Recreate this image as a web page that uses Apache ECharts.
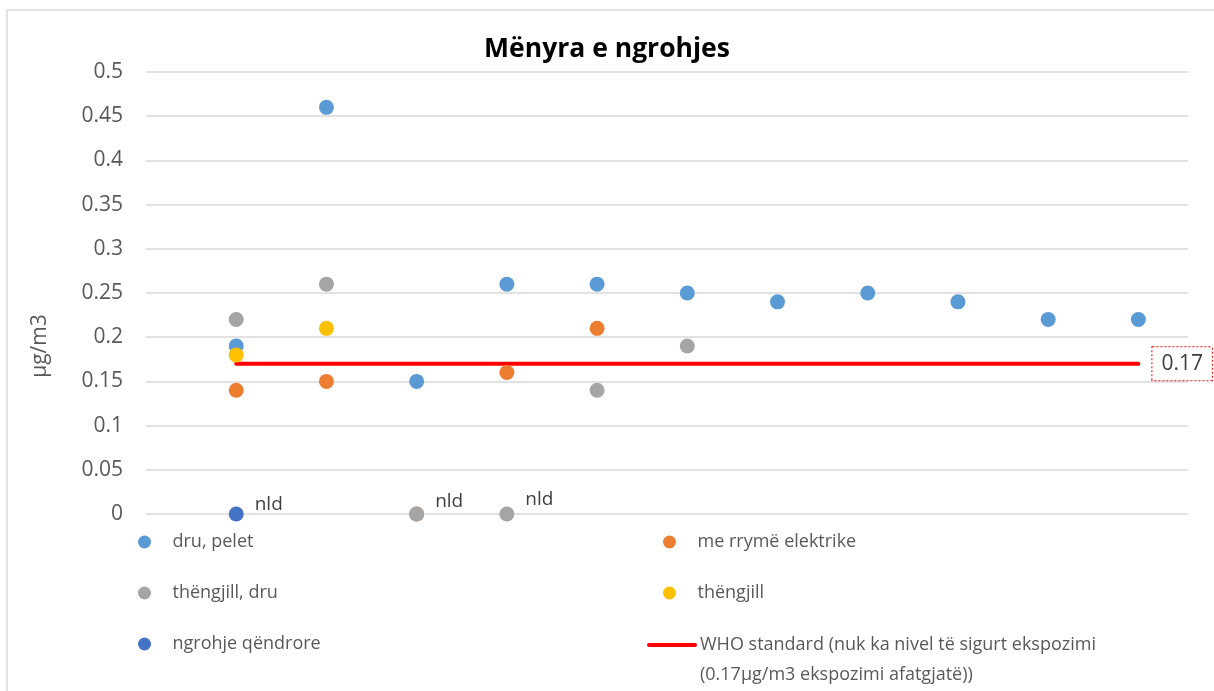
<!DOCTYPE html>
<html>
<head>
<meta charset="utf-8">
<title>Mënyra e ngrohjes</title>
<script src="https://cdn.jsdelivr.net/npm/echarts@6/dist/echarts.min.js"></script>
<style>
  html, body { margin: 0; padding: 0; background: #fff; }
  #chart { width: 1214px; height: 691px; }
</style>
</head>
<body>
<div id="chart"></div>
<script>
// Sample positions along the horizontal axis (1..11)
const samplePositions = [1, 2, 3, 4, 5, 6, 7, 8, 9, 10, 11];

// Measured concentrations (µg/m3) per heating type; null = no sample
const druPelet = [0.19, 0.46, 0.15, 0.26, 0.26, 0.25, 0.24, 0.25, 0.24, 0.22, 0.22];
const rrymeElektrike = [0.14, 0.15, 0, 0.16, 0.21, null, null, null, null, null, null];
const thengjillDru = [0.22, 0.26, 0, 0, 0.14, 0.19, null, null, null, null, null];
const thengjill = [0.18, 0.21, null, null, null, null, null, null, null, null, null];
const ngrohjeQendrore = [0, null, null, null, null, null, null, null, null, null, null];

// Samples below the detection limit, marked "nld"
const nldQendrore = [0];
const nldThengjillDru = [2, 3];

// WHO reference level
const whoLevel = 0.17;
const whoRange = [1, 11];

const yTicks = [0, 0.05, 0.1, 0.15, 0.2, 0.25, 0.3, 0.35, 0.4, 0.45, 0.5];

const FONT = '"Open Sans", "DejaVu Sans", sans-serif';
const TEXT = '#595959';

function points(values, nldIdx, nldOffsets) {
  const out = [];
  values.forEach((v, i) => {
    if (v == null) return;
    const item = { value: [samplePositions[i], v] };
    const k = (nldIdx || []).indexOf(i);
    if (k >= 0) {
      item.label = {
        show: true,
        formatter: 'nld',
        position: 'right',
        distance: 11,
        offset: nldOffsets[k],
        color: '#404040',
        fontSize: 19,
        fontFamily: FONT
      };
    }
    out.push(item);
  });
  return out;
}

function scatter(name, color, data) {
  return {
    name: name,
    type: 'scatter',
    symbol: 'circle',
    symbolSize: 15,
    itemStyle: { color: color, opacity: 1 },
    data: data
  };
}

const chart = echarts.init(document.getElementById('chart'), null, { renderer: 'canvas' });

const legendText = { color: TEXT, fontSize: 18, fontFamily: FONT, lineHeight: 30 };

chart.setOption({
  animation: false,
  backgroundColor: '#fff',
  title: {
    text: 'Mënyra e ngrohjes',
    left: 'center',
    top: 31,
    textStyle: { fontFamily: FONT, fontWeight: 'bold', fontSize: 26.5, color: '#000' }
  },
  grid: { left: 146, right: 26, top: 72, bottom: 177, containLabel: false },
  xAxis: {
    type: 'value',
    min: 0,
    max: 11.55,
    show: false
  },
  yAxis: {
    type: 'value',
    min: yTicks[0],
    max: yTicks[yTicks.length - 1],
    interval: 0.05,
    name: 'µg/m3',
    nameLocation: 'middle',
    nameGap: 95,
    nameTextStyle: { color: TEXT, fontSize: 21, fontFamily: FONT, padding: [0, 106, 0, 0] },
    axisLine: { show: false },
    axisTick: { show: false },
    axisLabel: {
      color: TEXT, fontSize: 21, fontFamily: FONT, margin: 23,
      formatter: v => String(+v.toFixed(2))
    },
    splitLine: { lineStyle: { color: '#d9d9d9', width: 1.5 } }
  },
  legend: [
    {
      data: ['dru, pelet', 'thëngjill, dru', 'ngrohje qëndrore'],
      orient: 'vertical', left: 138, top: 527, padding: 0,
      itemWidth: 46, itemHeight: 13, itemGap: 21,
      selectedMode: false, textStyle: legendText
    },
    {
      data: ['me rrymë elektrike', 'thëngjill'],
      orient: 'vertical', left: 663, top: 527, padding: 0,
      itemWidth: 46, itemHeight: 13, itemGap: 21,
      selectedMode: false, textStyle: legendText
    },
    {
      data: ['WHO standard (nuk ka nivel të sigurt ekspozimi (0.17µg/m3 ekspozimi afatgjatë))'],
      orient: 'vertical', left: 647, top: 600, padding: 0,
      itemWidth: 46, itemHeight: 13,
      selectedMode: false, textStyle: legendText,
      itemStyle: { opacity: 0 },
      lineStyle: { width: 4, cap: 'round' },
      formatter: () => '\nWHO standard (nuk ka nivel të sigurt ekspozimi\n(0.17µg/m3 ekspozimi afatgjatë))'
    }
  ],
  graphic: [{
    // chart frame
    type: 'rect',
    shape: { x: 7, y: 10, width: 1220, height: 700 },
    style: { fill: null, stroke: '#d9d9d9', lineWidth: 1.5 },
    silent: true,
    z: -10
  }],
  series: [
    scatter('dru, pelet', '#5B9BD5', points(druPelet)),
    scatter('me rrymë elektrike', '#ED7D31', points(rrymeElektrike)),
    scatter('thëngjill, dru', '#A5A5A5', points(thengjillDru, nldThengjillDru, [[0, -12], [0, -14]])),
    scatter('thëngjill', '#FFC000', points(thengjill)),
    scatter('ngrohje qëndrore', '#4472C4', points(ngrohjeQendrore, nldQendrore, [[0, -9]])),
    {
      name: 'WHO standard (nuk ka nivel të sigurt ekspozimi (0.17µg/m3 ekspozimi afatgjatë))',
      type: 'line',
      symbol: 'none',
      data: whoRange.map(x => [x, whoLevel]),
      lineStyle: { color: '#FF0000', width: 4, cap: 'round' },
      itemStyle: { color: '#FF0000' },
      z: 1,
      endLabel: {
        show: true,
        formatter: () => String(whoLevel),
        distance: 14,
        color: '#404040',
        fontSize: 21,
        fontFamily: FONT,
        padding: [6, 9, 6, 9],
        borderColor: '#FF0000',
        borderWidth: 1,
        borderType: 'dotted',
        backgroundColor: '#fff'
      }
    }
  ]
});
</script>
</body>
</html>
